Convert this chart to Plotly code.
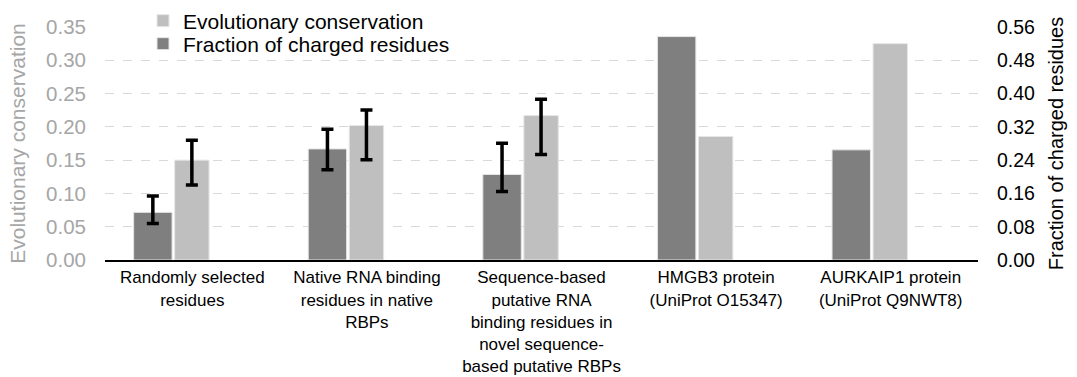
import plotly.graph_objects as go

categories = [
    "Randomly selected<br>residues",
    "Native RNA binding<br>residues in native<br>RBPs",
    "Sequence-based<br>putative RNA<br>binding residues in<br>novel sequence-<br>based putative RBPs",
    "HMGB3 protein<br>(UniProt O15347)",
    "AURKAIP1 protein<br>(UniProt Q9NWT8)",
]

conservation = [0.150, 0.202, 0.217, 0.1855, 0.325]
conservation_err_plus = [0.030, 0.0235, 0.0245]
conservation_err_minus = [0.0375, 0.0515, 0.0585]

charged = [0.1145, 0.267, 0.2056, 0.537, 0.2647]
charged_err_plus = [0.0395, 0.047, 0.075]
charged_err_minus = [0.027, 0.050, 0.041]

left_ticks = [0.00, 0.05, 0.10, 0.15, 0.20, 0.25, 0.30, 0.35]
right_ticks = [0.00, 0.08, 0.16, 0.24, 0.32, 0.40, 0.48, 0.56]

DARK = "#7f7f7f"
LIGHT = "#bfbfbf"
FONT = "Liberation Sans, Arial, sans-serif"

fig = go.Figure()


def add_series(values, errs_plus, errs_minus, name, color, width, offset, yaxis, legend):
    n = len(errs_plus)
    # bars that carry error bars
    fig.add_trace(go.Bar(
        x=categories[:n], y=values[:n], name=name,
        marker=dict(color=color, line=dict(color="#e6e6e6", width=1)),
        width=width, offset=offset,
        error_y=dict(type="data", symmetric=False, array=errs_plus,
                     arrayminus=errs_minus, color="black", thickness=3.5, width=6),
        yaxis=yaxis, legend=legend, legendgroup=name,
    ))
    # bars without error bars
    fig.add_trace(go.Bar(
        x=categories[n:], y=values[n:], name=name,
        marker=dict(color=color, line=dict(color="#e6e6e6", width=1)),
        width=width, offset=offset,
        yaxis=yaxis, legend=legend, legendgroup=name, showlegend=False,
    ))


add_series(conservation, conservation_err_plus, conservation_err_minus,
           "Evolutionary conservation", LIGHT, 0.197, -0.101, "y", "legend")
add_series(charged, charged_err_plus, charged_err_minus,
           "Fraction of charged residues", DARK, 0.22, -0.336, "y2", "legend2")

L, R, T, B = 105, 99, 27, 117
W, H = 1077, 377
pw = W - L - R
ph = H - T - B


def px_x(p):
    return (p - L) / pw


def px_y(p):
    return (H - B - p) / ph


fig.update_layout(
    width=W, height=H,
    margin=dict(l=L, r=R, t=T, b=B, autoexpand=False),
    paper_bgcolor="white", plot_bgcolor="white",
    font=dict(family=FONT, color="black"),
    barmode="overlay",
    showlegend=True,
    legend=dict(x=px_x(143), y=px_y(21), xanchor="left", yanchor="middle",
                font=dict(size=21, color="black"), bgcolor="rgba(0,0,0,0)",
                borderwidth=0),
    legend2=dict(x=px_x(143), y=px_y(44), xanchor="left", yanchor="middle",
                 font=dict(size=21, color="black"), bgcolor="rgba(0,0,0,0)",
                 borderwidth=0),
    xaxis=dict(
        type="category", range=[-0.5, 4.5],
        showline=True, linecolor="black", linewidth=2,
        showgrid=False, ticks="", tickfont=dict(size=17, color="black"),
        ticklabelstandoff=1,
    ),
    yaxis=dict(
        range=[0, 0.35], tickvals=left_ticks, tickformat=".2f",
        showgrid=True, gridcolor="#d9d9d9", griddash="dash", gridwidth=1,
        zeroline=False, showline=False, ticks="",
        tickfont=dict(size=20.5, color="#a6a6a6"),
        ticklabelstandoff=18,
        title=dict(text="Evolutionary conservation", font=dict(size=21, color="#a6a6a6"),
                   standoff=14),
    ),
    yaxis2=dict(
        range=[0, 0.56], tickvals=right_ticks, tickformat=".2f",
        overlaying="y", side="right",
        showgrid=False, zeroline=False, showline=False, ticks="",
        tickfont=dict(size=19.5, color="black"),
        ticklabelstandoff=18,
        title=dict(text="Fraction of charged residues", font=dict(size=20, color="black"),
                   standoff=14),
    ),
)

fig.write_html("out.html")
